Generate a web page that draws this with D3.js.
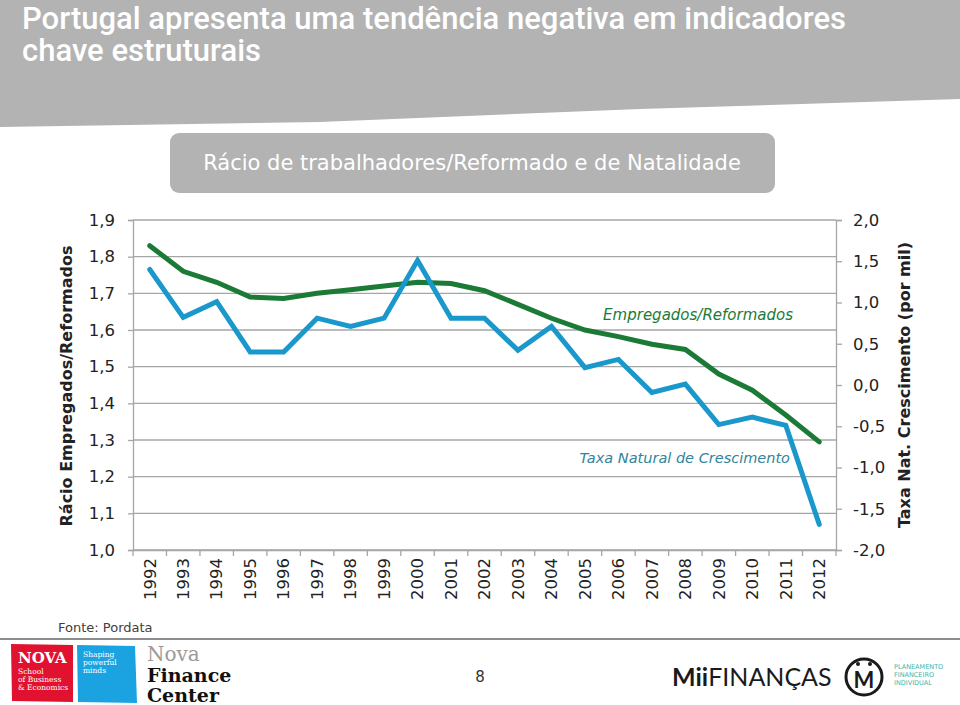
<!DOCTYPE html>
<html>
<head>
<meta charset="utf-8">
<script src="https://cdn.jsdelivr.net/npm/d3@7"></script>
<style>
  html, body { margin: 0; padding: 0; background: #fff; }
  svg { display: block; }
</style>
</head>
<body>
<svg id="chart" width="960" height="705"></svg>
<script>
// ---- DATA ----
const years = ["1992","1993","1994","1995","1996","1997","1998","1999","2000","2001","2002",
               "2003","2004","2005","2006","2007","2008","2009","2010","2011","2012"];
const ratioEmpReform = [1.83,1.76,1.73,1.69,1.686,1.70,1.71,1.72,1.73,1.727,1.707,
                        1.67,1.632,1.60,1.582,1.561,1.547,1.48,1.436,1.368,1.295];
const taxaNatural = [1.40,0.82,1.01,0.40,0.40,0.81,0.71,0.81,1.51,0.81,0.81,
                     0.42,0.71,0.21,0.31,-0.09,0.01,-0.48,-0.39,-0.49,-1.69];
const leftTicks = [1.0,1.1,1.2,1.3,1.4,1.5,1.6,1.7,1.8,1.9];
const rightTicks = [-2.0,-1.5,-1.0,-0.5,0.0,0.5,1.0,1.5,2.0];

const titleLines = ["Portugal apresenta uma tendência negativa em indicadores", "chave estruturais"];
const subtitle = "Rácio de trabalhadores/Reformado e de Natalidade";
const leftTitle = "Rácio Empregados/Reformados";
const rightTitle = "Taxa Nat. Crescimento (por mil)";
const labelRatio = "Empregados/Reformados";
const labelTaxa = "Taxa Natural de Crescimento";
const source = "Fonte: Pordata";

// ---- SETUP ----
const svg = d3.select("#chart");
const FONT = "'DejaVu Sans', sans-serif";
const fmt = d => d.toFixed(1).replace(".", ",");

const plot = {left: 133, right: 836, top: 220, bottom: 550};
const x = d3.scaleBand().domain(years).range([plot.left, plot.right]);
const yL = d3.scaleLinear().domain([1.0, 1.9]).range([plot.bottom, plot.top]);
const yR = d3.scaleLinear().domain([-2, 2]).range([plot.bottom, plot.top]);
const cx = d => x(d) + x.bandwidth() / 2;

// ---- HEADER ----
svg.append("path")
  .attr("d", "M0,0 L960,0 L960,99 L640,109 L320,122 L0,127 Z")
  .attr("fill", "#b3b3b3");
svg.append("g").selectAll("text").data(titleLines).join("text")
  .attr("x", 22).attr("y", (d, i) => 29 + i * 32)
  .attr("fill", "#fff")
  .attr("font-family", "Roboto, sans-serif")
  .attr("font-weight", 500)
  .attr("font-size", 31)
  .text(d => d);

svg.append("rect").attr("x", 170).attr("y", 133).attr("width", 605).attr("height", 60)
  .attr("rx", 9).attr("fill", "#b3b3b3");
svg.append("text").attr("x", 472).attr("y", 170).attr("text-anchor", "middle")
  .attr("fill", "#fff").attr("font-family", FONT).attr("font-size", 21)
  .text(subtitle);

// ---- GRID ----
svg.append("g").selectAll("line").data(leftTicks).join("line")
  .attr("x1", plot.left).attr("x2", plot.right)
  .attr("y1", d => yL(d)).attr("y2", d => yL(d))
  .attr("stroke", "#a6a6a6").attr("stroke-width", 1.3);

// ---- AXES ----
const gL = svg.append("g").attr("transform", `translate(${plot.left},0)`)
  .call(d3.axisLeft(yL).tickValues(leftTicks).tickSize(5).tickPadding(13).tickFormat(fmt));
const gR = svg.append("g").attr("transform", `translate(${plot.right},0)`)
  .call(d3.axisRight(yR).tickValues(rightTicks).tickSize(6).tickPadding(11).tickFormat(fmt));
const gB = svg.append("g").attr("transform", `translate(0,${plot.bottom})`)
  .call(d3.axisBottom(x).tickSize(0).tickSizeOuter(0));

[gL, gR, gB].forEach(g => {
  g.select(".domain").attr("stroke", "#a6a6a6").attr("stroke-width", 1.3);
  g.selectAll(".tick line").attr("stroke", "#a6a6a6").attr("stroke-width", 1.3);
  g.selectAll("text").attr("font-family", FONT).attr("font-size", 16.5).attr("fill", "#222");
});
gB.selectAll(".tick text")
  .attr("transform", "rotate(-90)")
  .attr("x", -8).attr("y", 0).attr("dy", "0.35em")
  .attr("text-anchor", "end");
// category boundary tick marks
svg.append("g").selectAll("line").data(years.concat(["end"])).join("line")
  .attr("x1", d => d === "end" ? plot.right : x(d))
  .attr("x2", d => d === "end" ? plot.right : x(d))
  .attr("y1", plot.bottom).attr("y2", plot.bottom + 6)
  .attr("stroke", "#a6a6a6").attr("stroke-width", 1.3);

// ---- AXIS TITLES ----
svg.append("text").attr("transform", "translate(72,386) rotate(-90)")
  .attr("text-anchor", "middle").attr("font-family", FONT).attr("font-weight", "bold")
  .attr("font-size", 16).attr("fill", "#222").text(leftTitle);
svg.append("text").attr("transform", "translate(910,385) rotate(-90)")
  .attr("text-anchor", "middle").attr("font-family", FONT).attr("font-weight", "bold")
  .attr("font-size", 16).attr("fill", "#222").text(rightTitle);

// ---- LINES ----
const lineL = d3.line().x((d, i) => cx(years[i])).y(d => yL(d));
const lineR = d3.line().x((d, i) => cx(years[i])).y(d => yR(d));
svg.append("path").datum(ratioEmpReform).attr("d", lineL)
  .attr("fill", "none").attr("stroke", "#1b7a36").attr("stroke-width", 5)
  .attr("stroke-linecap", "round");
svg.append("path").datum(taxaNatural).attr("d", lineR)
  .attr("fill", "none").attr("stroke", "#1b98cb").attr("stroke-width", 5)
  .attr("stroke-linecap", "round");

// ---- SERIES LABELS ----
svg.append("text").attr("x", 793).attr("y", 320).attr("text-anchor", "end")
  .attr("font-family", FONT).attr("font-style", "italic").attr("font-size", 15)
  .attr("fill", "#1b7a36").text(labelRatio);
svg.append("text").attr("x", 790).attr("y", 463).attr("text-anchor", "end")
  .attr("font-family", FONT).attr("font-style", "italic").attr("font-size", 14.5)
  .attr("fill", "#31849b").text(labelTaxa);

// ---- FOOTER ----
svg.append("text").attr("x", 58).attr("y", 632).attr("font-family", FONT)
  .attr("font-size", 13).attr("fill", "#404040").text(source);
svg.append("line").attr("x1", 0).attr("x2", 960).attr("y1", 639).attr("y2", 639)
  .attr("stroke", "#8c8c8c").attr("stroke-width", 2);

const logo = svg.append("g");
logo.append("path").attr("d", "M11,644 L73,645 L73,702 L12,701 Z").attr("fill", "#e1122f");
logo.append("path").attr("d", "M77,645 L135,646 L137,703 L78,702 Z").attr("fill", "#1ba3e1");
const serif = "'DejaVu Serif', serif";
logo.append("text").attr("x", 18).attr("y", 663).attr("font-family", serif)
  .attr("font-weight", "bold").attr("font-size", 15).attr("fill", "#fff").text("NOVA");
["School", "of Business", "& Economics"].forEach((t, i) =>
  logo.append("text").attr("x", 18).attr("y", 674 + i * 8).attr("font-family", serif)
    .attr("font-size", 7.5).attr("fill", "#fff").text(t));
["Shaping", "powerful", "minds"].forEach((t, i) =>
  logo.append("text").attr("x", 83).attr("y", 657 + i * 8).attr("font-family", serif)
    .attr("font-size", 7.5).attr("fill", "#fff").text(t));
logo.append("text").attr("x", 147).attr("y", 661).attr("font-family", serif)
  .attr("font-size", 20).attr("fill", "#9a9a9a").text("Nova");
logo.append("text").attr("x", 147).attr("y", 682).attr("font-family", serif)
  .attr("font-weight", "bold").attr("font-size", 19).attr("fill", "#111").text("Finance");
logo.append("text").attr("x", 147).attr("y", 702).attr("font-family", serif)
  .attr("font-weight", "bold").attr("font-size", 19).attr("fill", "#111").text("Center");

svg.append("text").attr("x", 480).attr("y", 682).attr("text-anchor", "middle")
  .attr("font-family", FONT).attr("font-size", 15).attr("fill", "#333").text("8");

const mii = svg.append("g");
const miiT = mii.append("text").attr("x", 672).attr("y", 686).attr("font-family", "Lato, sans-serif")
  .attr("font-size", 25).attr("fill", "#1a1a1a");
miiT.append("tspan").attr("font-weight", "bold").text("Mii");
miiT.append("tspan").text("FINANÇAS");
mii.append("circle").attr("cx", 864).attr("cy", 677).attr("r", 18)
  .attr("fill", "none").attr("stroke", "#1a1a1a").attr("stroke-width", 3);
mii.append("text").attr("x", 864).attr("y", 688).attr("text-anchor", "middle")
  .attr("font-family", "Lato, sans-serif").attr("font-weight", "bold").attr("font-size", 22)
  .attr("fill", "#1a1a1a").text("M");
mii.append("circle").attr("cx", 858).attr("cy", 664).attr("r", 2).attr("fill", "#1a1a1a");
mii.append("circle").attr("cx", 870).attr("cy", 664).attr("r", 2).attr("fill", "#1a1a1a");
["PLANEAMENTO", "FINANCEIRO", "INDIVIDUAL"].forEach((t, i) =>
  mii.append("text").attr("x", 894).attr("y", 669 + i * 8).attr("font-family", FONT)
    .attr("font-size", 6.5).attr("fill", "#3fb4a8").text(t));
</script>
</body>
</html>
